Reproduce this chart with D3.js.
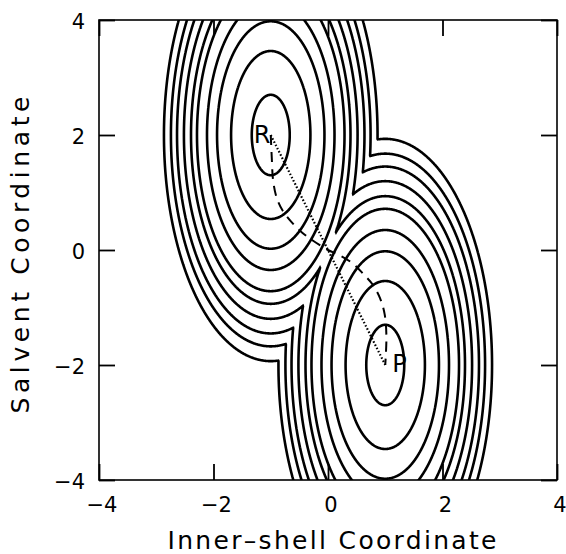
<!DOCTYPE html>
<html>
<head>
<meta charset="utf-8">
<script src="https://cdn.jsdelivr.net/npm/d3@7"></script>
<style>
  body { margin: 0; background: #fff; }
  text { font-family: "DejaVu Sans", sans-serif; fill: #000; }
</style>
</head>
<body>
<svg id="chart" width="566" height="554"></svg>
<script>
// Two harmonic free-energy wells, reactant (R) and product (P)
const wellNames = ["R", "P"];
const wellX = [-1, 1];          // inner-shell coordinate of each minimum
const wellY = [2, -2];          // solvent coordinate of each minimum
const forceX = [1.0, 1.0];      // curvature along the inner-shell axis
const forceY = [0.225, 0.225];  // curvature along the solvent axis

// Energy levels of the drawn contours
const levels = [0.11, 0.48, 0.88, 1.24, 1.66, 1.94, 2.30, 2.68, 3.04, 3.48];

// Minimum-energy path (dashed) from R through the crossing point to P
const pathX = [-1.00, -0.98, -0.96, -0.90, -0.80, -0.64, -0.46, -0.26, 0.00, 0.22, 0.44, 0.62, 0.78, 0.91, 0.99, 1.02, 1.00];
const pathY = [ 2.00,  1.56,  1.22,  0.92,  0.70,  0.49,  0.31,  0.16, 0.00, -0.10, -0.24, -0.42, -0.60, -0.84, -1.12, -1.50, -2.00];

// Straight line (dotted) from R to P
const lineX = [-1, 1];
const lineY = [2, -2];

const xTicks = [-4, -2, 0, 2, 4];
const yTicks = [-4, -2, 0, 2, 4];
const xTitle = "Inner\u2013shell  Coordinate";
const yTitle = "Salvent  Coordinate";

const margin = { left: 99, top: 20, right: 9, bottom: 74 };
const W = 566, H = 554;
const x = d3.scaleLinear().domain([-4, 4]).range([margin.left, W - margin.right]);
const y = d3.scaleLinear().domain([-4, 4]).range([H - margin.bottom, margin.top]);

const svg = d3.select("#chart");

svg.append("clipPath").attr("id", "plot-clip")
  .append("rect")
  .attr("x", x(-4)).attr("y", y(4))
  .attr("width", x(4) - x(-4)).attr("height", y(-4) - y(4));

// Surface = lower of the two diabatic wells
function energy(px, py) {
  let e = Infinity;
  for (let k = 0; k < wellX.length; k++) {
    const dx = px - wellX[k], dy = py - wellY[k];
    e = Math.min(e, forceX[k] * dx * dx + forceY[k] * dy * dy);
  }
  return e;
}

// Sample on a grid a bit larger than the frame so edges get clipped away
const g0 = -4.4, g1 = 4.4, step = 0.01;
const n = Math.round((g1 - g0) / step) + 1;
const values = new Float64Array(n * n);
for (let j = 0; j < n; j++) {
  const gy = g1 - j * step;
  for (let i = 0; i < n; i++) {
    values[j * n + i] = energy(g0 + i * step, gy);
  }
}

const contours = d3.contours().size([n, n]).thresholds(levels)(values);
const proj = d3.geoTransform({
  point(gx, gy) {
    this.stream.point(x(g0 + (gx - 0.5) * step), y(g1 - (gy - 0.5) * step));
  }
});
const geo = d3.geoPath(proj);

const plot = svg.append("g").attr("clip-path", "url(#plot-clip)");
plot.selectAll("path.contour")
  .data(contours)
  .join("path")
  .attr("class", "contour")
  .attr("d", geo)
  .attr("fill", "none")
  .attr("stroke", "#000")
  .attr("stroke-width", 2.6)
  .attr("stroke-linejoin", "miter");

// Dotted straight line R -> P
const lineGen = d3.line().x(d => x(d[0])).y(d => y(d[1]));
plot.append("path")
  .attr("d", lineGen(d3.zip(lineX, lineY)))
  .attr("fill", "none").attr("stroke", "#000")
  .attr("stroke-width", 2.2)
  .attr("stroke-dasharray", "1.6,2.0");

// Dashed minimum-energy path
const curveGen = d3.line().x(d => x(d[0])).y(d => y(d[1])).curve(d3.curveCatmullRom);
plot.append("path")
  .attr("d", curveGen(d3.zip(pathX, pathY)))
  .attr("fill", "none").attr("stroke", "#000")
  .attr("stroke-width", 2)
  .attr("stroke-dasharray", "10,7");

// Well labels
const labelDX = [-17, 7];
const labelDY = [8, 7];
svg.selectAll("text.well")
  .data(wellNames)
  .join("text")
  .attr("class", "well")
  .attr("x", (d, k) => x(wellX[k]) + labelDX[k])
  .attr("y", (d, k) => y(wellY[k]) + labelDY[k])
  .attr("font-size", 24)
  .text(d => d);

// Frame
svg.append("rect")
  .attr("x", x(-4)).attr("y", y(4))
  .attr("width", x(4) - x(-4)).attr("height", y(-4) - y(4))
  .attr("fill", "none").attr("stroke", "#000").attr("stroke-width", 1.6);

// Inward ticks on all four sides
const tickLen = 16;
const axisBottom = d3.axisBottom(x).tickValues(xTicks).tickSizeInner(-tickLen).tickSizeOuter(0).tickFormat("");
const axisTop = d3.axisTop(x).tickValues(xTicks).tickSizeInner(-tickLen).tickSizeOuter(0).tickFormat("");
const axisLeft = d3.axisLeft(y).tickValues(yTicks).tickSizeInner(-tickLen).tickSizeOuter(0).tickFormat("");
const axisRight = d3.axisRight(y).tickValues(yTicks).tickSizeInner(-tickLen).tickSizeOuter(0).tickFormat("");
function styleAxis(g) {
  g.select(".domain").remove();
  g.selectAll(".tick line").attr("stroke", "#000").attr("stroke-width", 1.8);
}
svg.append("g").attr("transform", `translate(0,${y(-4)})`).call(axisBottom).call(styleAxis);
svg.append("g").attr("transform", `translate(0,${y(4)})`).call(axisTop).call(styleAxis);
svg.append("g").attr("transform", `translate(${x(-4)},0)`).call(axisLeft).call(styleAxis);
svg.append("g").attr("transform", `translate(${x(4)},0)`).call(axisRight).call(styleAxis);

// Tick labels
const fmt = v => (v < 0 ? "\u2212" : "") + Math.abs(v);
svg.selectAll("text.xtick")
  .data(xTicks).join("text").attr("class", "xtick")
  .attr("x", d => x(d) + 3).attr("y", 512)
  .attr("text-anchor", "middle").attr("font-size", 21)
  .text(fmt);
svg.selectAll("text.ytick")
  .data(yTicks).join("text").attr("class", "ytick")
  .attr("x", 85).attr("y", d => y(d) + 8.5)
  .attr("text-anchor", "end").attr("font-size", 21)
  .text(fmt);

// Axis titles
svg.append("text")
  .attr("x", 332).attr("y", 549)
  .attr("text-anchor", "middle").attr("font-size", 25)
  .attr("textLength", 329).attr("lengthAdjust", "spacing")
  .text(xTitle);
svg.append("text")
  .attr("transform", "translate(29,255) rotate(-90)")
  .attr("text-anchor", "middle").attr("font-size", 25)
  .attr("textLength", 317).attr("lengthAdjust", "spacing")
  .text(yTitle);
</script>
</body>
</html>
